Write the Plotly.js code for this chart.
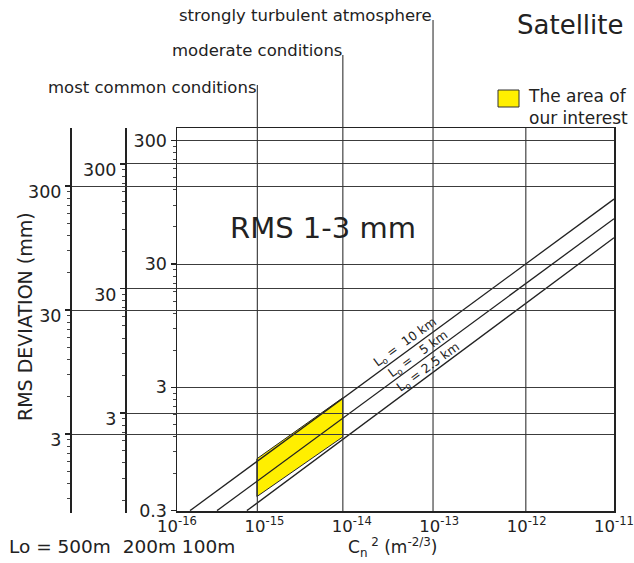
<!DOCTYPE html>
<html>
<head>
<meta charset="utf-8">
<script src="https://cdn.plot.ly/plotly-3.0.1.min.js"></script>
<style>body{margin:0;padding:0;background:#fff}#chart{width:634px;height:563px}</style>
</head>
<body>
<div id="chart"></div>
<script>
// ---- data ----
const xTickVals = [1e-16, 1e-15, 1e-14, 1e-13, 1e-12, 1e-11];
const xTickText = ['10<sup>-16</sup>', '10<sup>-15</sup>', '10<sup>-14</sup>', '10<sup>-13</sup>', '10<sup>-12</sup>', '10<sup>-11</sup>'];
const yMainTicks = [0.3, 3, 30, 300];
const ySideTicks = [3, 30, 300];
const minorBases = [0.3, 3, 30];

const loNames = ['L<sub>o</sub> =  10 km', 'L<sub>o</sub> =   5 km', 'L<sub>o</sub> = 2.5 km'];
const lo10X = [1.41e-16, 1e-11];
const lo10Y = [0.3, 101];
const lo5X = [2.87e-16, 1e-11];
const lo5Y = [0.3, 70];
const lo25X = [6.3e-16, 1e-11];
const lo25Y = [0.3, 49];

const areaX = [8.2e-16, 7.9e-15, 7.9e-15, 8.2e-16, 8.2e-16];
const areaY = [0.79, 2.47, 1.19, 0.39, 0.79];

const conditionNames = ['most common conditions', 'moderate conditions', 'strongly turbulent atmosphere'];
const conditionCn2 = [8.3e-16, 7.9e-15, 8.5e-14];
const extraGridCn2 = [9.8e-13];

const loScaleText = 'Lo = 500m\u00a0\u00a0200m 100m';

// ---- helpers ----
const W = 634, H = 563;
const px = v => v / W;
const py = v => 1 - v / H;
const minorTicks = [];
minorBases.forEach(b => { for (let k = 2; k <= 9; k++) minorTicks.push(+(b * k).toPrecision(6)); });

const lineCol = '#222';
const gridCol = '#3c3c3c';
const yellow = '#ffef00';

const traces = [
  {x: areaX, y: areaY, type: 'scatter', mode: 'lines', fill: 'toself', fillcolor: yellow,
   line: {color: lineCol, width: 1}, xaxis: 'x', yaxis: 'y', hoverinfo: 'skip'},
  {x: lo10X, y: lo10Y, type: 'scatter', mode: 'lines', line: {color: lineCol, width: 1.3}, name: loNames[0]},
  {x: lo5X, y: lo5Y, type: 'scatter', mode: 'lines', line: {color: lineCol, width: 1.3}, name: loNames[1]},
  {x: lo25X, y: lo25Y, type: 'scatter', mode: 'lines', line: {color: lineCol, width: 1.3}, name: loNames[2]},
  {x: [], y: [], type: 'scatter', xaxis: 'x2', yaxis: 'y2'},
  {x: [], y: [], type: 'scatter', xaxis: 'x3', yaxis: 'y3'}
];

function sideAxis(extra) {
  return Object.assign({
    type: 'log', tickvals: ySideTicks, ticktext: ySideTicks.map(String),
    ticks: 'outside', ticklen: 5, tickwidth: 1.3, tickcolor: lineCol,
    showgrid: true, gridcolor: gridCol, gridwidth: 1,
    showline: true, linecolor: lineCol, linewidth: 2, zeroline: false,
    tickfont: {size: 17.5, color: '#222'}, ticklabelshift: 6,
    minor: {tickvals: minorTicks, ticks: 'outside', ticklen: 3, tickwidth: 1, tickcolor: '#444', showgrid: false}
  }, extra);
}

const shapes = [];
const annotations = [];
const condTops = [85, 55, 20];
conditionCn2.forEach((c, i) => {
  shapes.push({type: 'line', xref: 'x', yref: 'paper', x0: c, x1: c, y0: py(511), y1: py(condTops[i]),
               line: {color: '#333', width: 1.1}, layer: 'above'});
});
extraGridCn2.forEach(c => {
  shapes.push({type: 'line', xref: 'x', yref: 'paper', x0: c, x1: c, y0: py(511), y1: py(128),
               line: {color: '#333', width: 1.1}, layer: 'above'});
});
// legend swatch
shapes.push({type: 'rect', xref: 'paper', yref: 'paper', x0: px(498), x1: px(519), y0: py(107), y1: py(90),
             fillcolor: yellow, line: {color: '#333', width: 1}});

const condLabelPos = [[258, 88], [344, 50], [434, 16]];
conditionNames.forEach((t, i) => {
  annotations.push({text: t, xref: 'paper', yref: 'paper', x: px(condLabelPos[i][0]), y: py(condLabelPos[i][1]),
                    xanchor: 'right', yanchor: 'middle', showarrow: false, font: {size: 16.5}});
});
annotations.push({text: 'Satellite', xref: 'paper', yref: 'paper', x: px(515), y: py(25), xanchor: 'left', yanchor: 'middle',
                  showarrow: false, font: {size: 26}});
annotations.push({text: 'The area of<br>our interest', xref: 'paper', yref: 'paper', x: px(526), y: py(107), xanchor: 'left',
                  yanchor: 'middle', align: 'left', showarrow: false, font: {size: 17}});
annotations.push({text: 'RMS 1-3 mm', xref: 'paper', yref: 'paper', x: px(323), y: py(228), xanchor: 'center', yanchor: 'middle',
                  showarrow: false, font: {size: 29}});
annotations.push({text: 'RMS DEVIATION (mm)', xref: 'paper', yref: 'paper', x: px(25), y: py(317), xanchor: 'center', yanchor: 'middle',
                  textangle: -90, showarrow: false, font: {size: 19}});
annotations.push({text: loScaleText, xref: 'paper', yref: 'paper', x: px(7), y: py(546), xanchor: 'left', yanchor: 'middle',
                  showarrow: false, font: {size: 18.5}});
annotations.push({text: 'C<sub>n</sub><sup> 2</sup> (m<sup>-2/3</sup>)', xref: 'paper', yref: 'paper', x: px(392), y: py(547),
                  xanchor: 'center', yanchor: 'middle', showarrow: false, font: {size: 17}});
const loLabelPos = [[405, 342], [418, 354], [428, 367]];
loNames.forEach((t, i) => {
  annotations.push({text: t, xref: 'paper', yref: 'paper', x: px(loLabelPos[i][0]), y: py(loLabelPos[i][1]),
                    xanchor: 'center', yanchor: 'middle', textangle: -36, showarrow: false, font: {size: 12.5}});
});

const layout = {
  width: W, height: H,
  margin: {l: 0, r: 0, t: 0, b: 0},
  paper_bgcolor: '#ffffff', plot_bgcolor: 'rgba(0,0,0,0)',
  showlegend: false,
  font: {family: 'DejaVu Sans, Arial, sans-serif', color: '#222'},
  xaxis: {domain: [px(177), px(614)], anchor: 'y', type: 'log', range: [-16, -11],
          tickvals: xTickVals, ticktext: xTickText, ticks: '', showgrid: false, zeroline: false,
          ticklabeloverflow: 'allow',
          showline: true, linecolor: lineCol, linewidth: 1.5, mirror: true, tickfont: {size: 16.5, color: '#222'}},
  yaxis: {domain: [py(511), py(128)], anchor: 'x', type: 'log', range: [Math.log10(0.3) - 0.003, 2.581],
          tickvals: yMainTicks, ticktext: yMainTicks.map(String),
          ticks: 'outside', ticklen: 5, tickwidth: 1.3, tickcolor: lineCol,
          showgrid: true, gridcolor: gridCol, gridwidth: 1, zeroline: false,
          showline: true, linecolor: lineCol, linewidth: 1.5, mirror: true,
          tickfont: {size: 17.5, color: '#222'},
          minor: {tickvals: minorTicks, ticks: 'outside', ticklen: 3, tickwidth: 1, tickcolor: '#444', showgrid: false}},
  xaxis2: {domain: [px(127), px(614)], anchor: 'y2', visible: false},
  yaxis2: sideAxis({domain: [py(513), py(128)], anchor: 'x2', range: [-0.326, 2.766]}),
  xaxis3: {domain: [px(72), px(614)], anchor: 'y3', visible: false},
  yaxis3: sideAxis({domain: [py(513), py(128)], anchor: 'x3', range: [-0.160, 2.945]}),
  shapes: shapes,
  annotations: annotations
};

Plotly.newPlot('chart', traces, layout, {staticPlot: true, displayModeBar: false});
</script>
</body>
</html>
